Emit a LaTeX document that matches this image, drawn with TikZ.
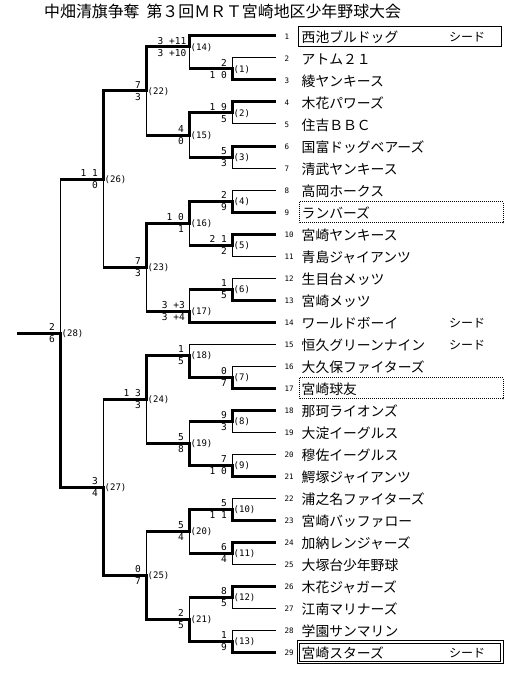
\documentclass[tikz,border=0pt]{standalone}
\usepackage{fontspec}
\newfontfamily\jp{Noto Sans CJK JP}
\newfontfamily\mono{DejaVu Sans Mono}
\begin{document}
\begin{tikzpicture}[x=1pt,y=-1pt,
  thin line/.style={line width=1pt},
  win line/.style={line width=3pt,line join=miter},
  sct/.style={font=\mono\fontsize{9.5}{10}\selectfont,anchor=south east,inner sep=0pt,xshift=-5pt,yshift=2pt},
  scb/.style={font=\mono\fontsize{9.5}{10}\selectfont,anchor=north east,inner sep=0pt,xshift=-5pt,yshift=-2.5pt},
  lab/.style={font=\mono\fontsize{9}{9}\selectfont,anchor=west,inner sep=0pt,xshift=1.5pt,yshift=-0.5pt},
  num/.style={font=\mono\fontsize{7.5}{8}\selectfont,anchor=west,inner sep=0pt},
  team/.style={font=\jp\fontsize{13.8}{14}\selectfont,anchor=west,inner sep=0pt},
  seed/.style={font=\jp\fontsize{12}{12}\selectfont,anchor=west,inner sep=0pt},
  dotbox/.style={line width=0.8pt,dash pattern=on 1pt off 1pt},
  solidbox/.style={line width=1pt}
]
\useasboundingbox (0,0) rectangle (521,674);
\fill[white] (0,0) rectangle (521,674);

% title
\node[font=\jp\fontsize{15.9}{16}\selectfont,anchor=west,inner sep=0pt] (title) at (44,11) {中畑清旗争奪\hspace{7pt}第３回ＭＲＴ宮崎地区少年野球大会};

% team end coordinates
\foreach \i in {1,...,29} {
  \pgfmathsetmacro{\yy}{36+22*(\i-1)}
  \coordinate (T\i) at (276,\yy);
  \node[num] (n\i) at (284.5,\yy+0.8) {\i};
}

% match coordinates
\coordinate (M1) at (232,69);   \coordinate (M2) at (232,113);
\coordinate (M3) at (232,157);  \coordinate (M4) at (232,201);
\coordinate (M5) at (232,245);  \coordinate (M6) at (232,289);
\coordinate (M7) at (232,377);  \coordinate (M8) at (232,421);
\coordinate (M9) at (232,465);  \coordinate (M10) at (232,509);
\coordinate (M11) at (232,553); \coordinate (M12) at (232,597);
\coordinate (M13) at (232,641);
\coordinate (M14) at (189,47);  \coordinate (M15) at (189,135);
\coordinate (M16) at (189,223); \coordinate (M17) at (189,311);
\coordinate (M18) at (189,355); \coordinate (M19) at (189,443);
\coordinate (M20) at (189,531); \coordinate (M21) at (189,619);
\coordinate (M22) at (146,91);  \coordinate (M23) at (146,267);
\coordinate (M24) at (146,399); \coordinate (M25) at (146,575);
\coordinate (M26) at (103,179); \coordinate (M27) at (103,487);
\coordinate (M28) at (60,333);
\coordinate (F) at (17,333);

% boxes
\draw[solidbox] (298,26.5) rectangle (501,46.5);
\draw[dotbox] (299,201.5) rectangle (503,222.5);
\draw[dotbox] (299,377.5) rectangle (503,398.5);
\draw[solidbox] (297,640.5) rectangle (503,663.5);
\draw[solidbox] (299.5,643) rectangle (500.5,661);

% team names
\foreach \i/\t in {1/西池ブルドッグ,2/アトム２１,3/綾ヤンキース,4/木花パワーズ,5/住吉ＢＢＣ,
  6/国富ドッグベアーズ,7/清武ヤンキース,8/高岡ホークス,9/ランバーズ,10/宮崎ヤンキース,
  11/青島ジャイアンツ,12/生目台メッツ,13/宮崎メッツ,14/ワールドボーイ,15/恒久グリーンナイン,
  16/大久保ファイターズ,17/宮崎球友,18/那珂ライオンズ,19/大淀イーグルス,20/穆佐イーグルス,
  21/鰐塚ジャイアンツ,22/浦之名ファイターズ,23/宮崎バッファロー,24/加納レンジャーズ,
  25/大塚台少年野球,26/木花ジャガーズ,27/江南マリナーズ,28/学園サンマリン,29/宮崎スターズ} {
  \pgfmathsetmacro{\yy}{36+22*(\i-1)}
  \node[team] (t\i) at (301.5,\yy+1) {\t};
}
\node[seed] (seed1) at (449,37) {シード};
\node[seed] (seed14) at (449,323) {シード};
\node[seed] (seed15) at (449,345) {シード};
\node[seed] (seed29) at (449,653) {シード};

% thin losing team lines
\foreach \i/\m in {2/M1,5/M2,7/M3,8/M4,11/M5,12/M6,15/M18,16/M7,19/M8,20/M9,22/M10,25/M11,27/M12,28/M13} {
  \draw[thin line] (\m |- T\i) -- (T\i);
}

% thin verticals
\foreach \m/\a/\b in {M1/T2/T3,M2/T4/T5,M3/T6/T7,M4/T8/T9,M5/T10/T11,M6/T12/T13,M7/T16/T17,
  M8/T18/T19,M9/T20/T21,M10/T22/T23,M11/T24/T25,M12/T26/T27,M13/T28/T29,
  M14/T1/M1,M15/M2/M3,M16/M4/M5,M17/M6/T14,M18/T15/M7,M19/M8/M9,M20/M10/M11,M21/M12/M13,
  M22/M14/M15,M23/M16/M17,M24/M18/M19,M25/M20/M21,M26/M22/M23,M27/M24/M25,M28/M26/M27} {
  \draw[thin line] (\m |- \a) -- (\m |- \b);
}

% winning paths
\foreach \w/\m/\n in {T3/M1/M14,T4/M2/M15,T6/M3/M15,T9/M4/M16,T10/M5/M16,T13/M6/M17,
  T17/M7/M18,T18/M8/M19,T21/M9/M19,T23/M10/M20,T24/M11/M20,T26/M12/M21,T29/M13/M21,
  T1/M14/M22,M2/M15/M22,M4/M16/M23,T14/M17/M23,M7/M18/M24,M9/M19/M24,M10/M20/M25,M13/M21/M25,
  M14/M22/M26,M16/M23/M26,M18/M24/M27,M21/M25/M27,M22/M26/M28,M25/M27/M28} {
  \draw[win line] (\w) -- (\m |- \w) -- (\m) -- (\n |- \m);
}
\draw[win line] (M27) -- (M28 |- M27) -- (M28) -- (F);

% scores and match labels
\foreach \m/\a/\b in {1/2/1 0,2/1 9/5,3/5/3,4/2/9,5/2 1/2,6/1/5,7/0/7,8/9/3,9/7/1 0,
  10/5/1 1,11/6/4,12/8/5,13/1/9,15/4/0,16/1 0/1,18/1/5,19/5/8,20/5/4,21/2/5,
  22/7/3,23/7/3,24/1 3/3,25/0/7,26/1 1/0,27/3/4,28/2/6} {
  \node[sct] (sa\m) at (M\m) {\a};
  \node[scb] (sb\m) at (M\m) {\b};
}
\node[sct,xshift=2.5pt] (sa14) at (M14) {3 +11};
\node[scb,xshift=2.5pt] (sb14) at (M14) {3 +10};
\node[sct,xshift=1pt] (sa17) at (M17) {3 +3};
\node[scb,xshift=1pt] (sb17) at (M17) {3 +4};
\foreach \m in {1,...,28} {
  \node[lab] (l\m) at (M\m) {(\m)};
}
\end{tikzpicture}
\end{document}
